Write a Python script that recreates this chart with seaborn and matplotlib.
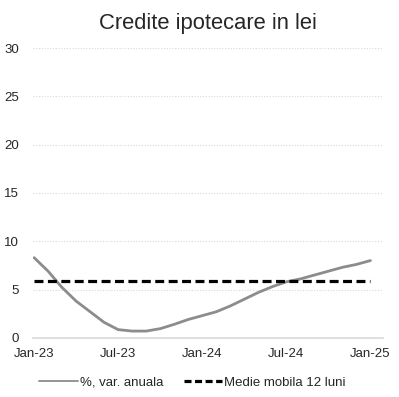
import seaborn as sns
import matplotlib.pyplot as plt
import pandas as pd

# monthly data, Jan-23 .. Jan-25
months = pd.date_range("2023-01-01", "2025-01-01", freq="MS")
var_anuala = [8.3, 6.9, 5.2, 3.8, 2.7, 1.6, 0.85, 0.7, 0.7, 0.95, 1.4, 1.9,
              2.3, 2.7, 3.3, 4.0, 4.7, 5.3, 5.8, 6.1, 6.5, 6.9, 7.3, 7.6, 8.0]
medie_mobila = [5.9] * 25
tick_pos = [0, 6, 12, 18, 24]
tick_labels = ["Jan-23", "Jul-23", "Jan-24", "Jul-24", "Jan-25"]

df = pd.DataFrame({"luna": range(len(months)),
                   "var": var_anuala,
                   "medie": medie_mobila})

sns.set_style("white")
plt.rcParams["font.family"] = ["Liberation Sans", "DejaVu Sans"]

fig = plt.figure(figsize=(3.99, 3.97), dpi=100)
ax = fig.add_axes([0.083, 0.149, 0.877, 0.730])

sns.lineplot(data=df, x="luna", y="var", ax=ax, color="#8c8c8c",
             linewidth=2, label="%, var. anuala")
sns.lineplot(data=df, x="luna", y="medie", ax=ax, color="black",
             linewidth=2.3, linestyle=(0, (2.8, 1.4)), label="Medie mobila 12 luni")

ax.set_ylim(0, 30)
ax.set_yticks([0, 5, 10, 15, 20, 25, 30])
ax.set_xlim(-0.07, 24.9)
ax.set_xticks(tick_pos)
ax.set_xticklabels(tick_labels)
ax.set_xlabel("")
ax.set_ylabel("")
ax.grid(axis="y", color="#d9d9d9", linestyle=(0, (1, 1.5)), linewidth=0.8)
for s in ["top", "right", "left"]:
    ax.spines[s].set_visible(False)
ax.spines["bottom"].set_color("#d9d9d9")
ax.spines["bottom"].set_linewidth(1.2)
ax.tick_params(axis="x", length=4, color="#d9d9d9", width=1, labelsize=9.5, pad=3)
ax.tick_params(axis="y", length=0, labelsize=9.5, pad=10)

ax.set_title("Credite ipotecare in lei", fontsize=15.8, pad=14)
leg = ax.legend(loc="center", bbox_to_anchor=(0.456, -0.155), ncol=2, frameon=False,
                fontsize=9.5, handlelength=2.9, columnspacing=1.6, handletextpad=0.15)
leg.get_lines()[0].set_linewidth(1.3)
leg.get_lines()[1].set_linestyle((0, (2.2, 1.1)))

fig.savefig("out.png", dpi=100)
